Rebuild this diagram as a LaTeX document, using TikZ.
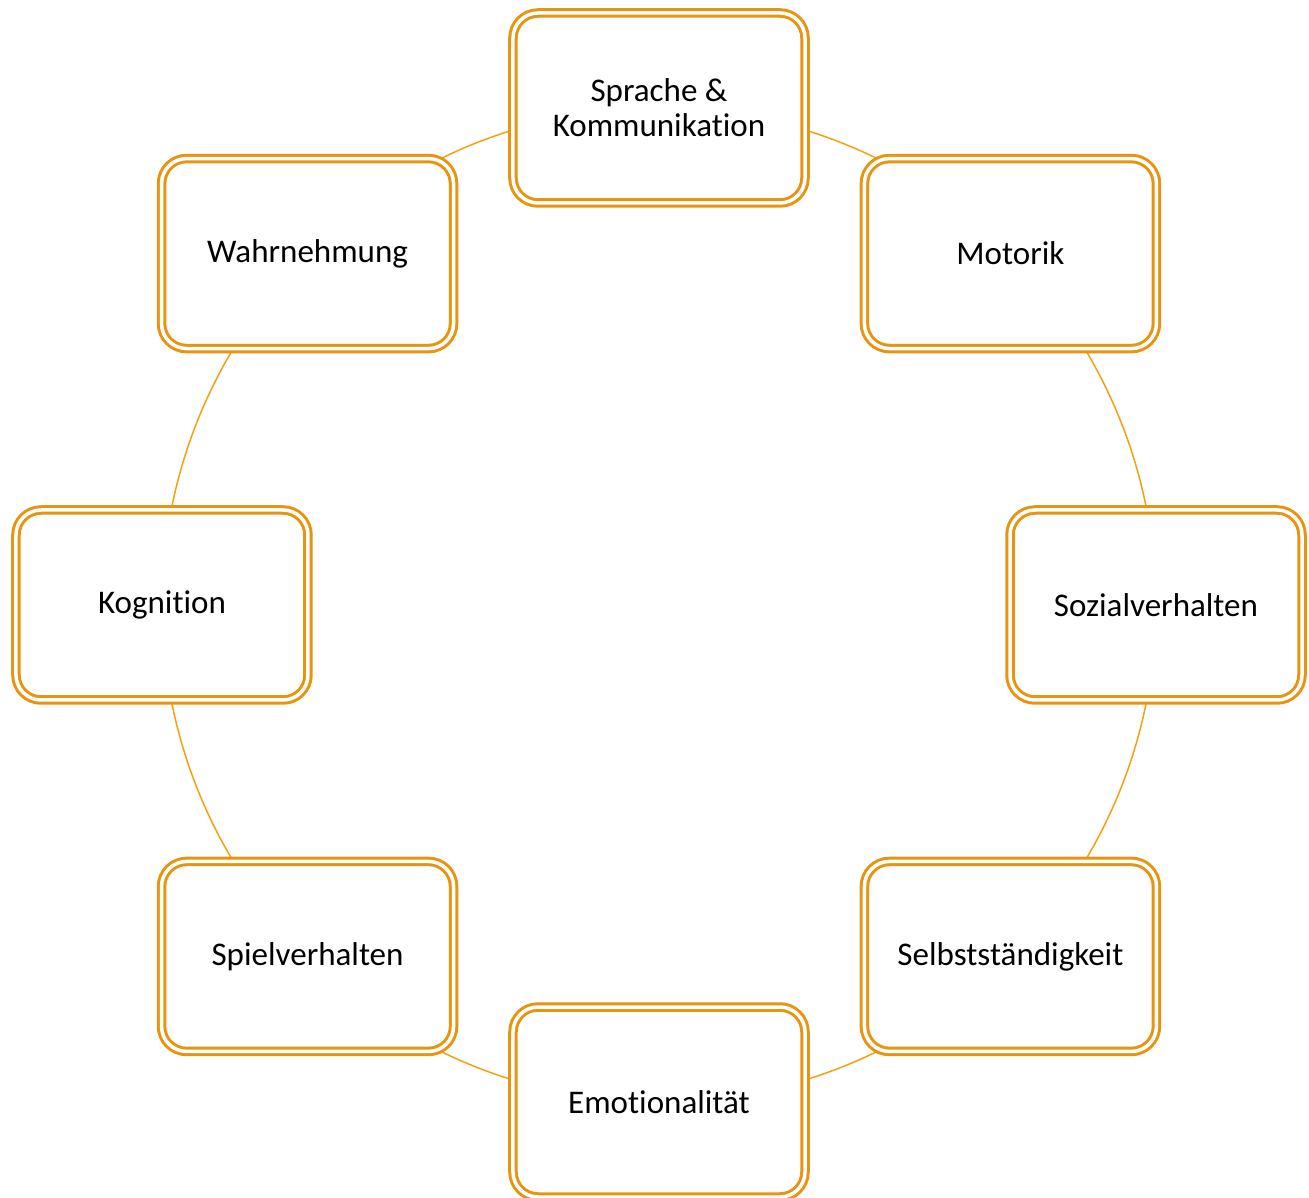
\documentclass[tikz,border=0pt]{standalone}
\usepackage{fontspec}
\setmainfont{Carlito}[Ligatures=NoCommon]
\usepackage{xcolor}
\usetikzlibrary{positioning,backgrounds}

\definecolor{boxorange}{RGB}{232,148,16}
\definecolor{ringorange}{RGB}{242,160,20}

\tikzset{
    area/.style={draw=boxorange, double, line width=0.06cm, double distance=0.07cm,
        fill=white, rounded corners=0.5cm, minimum width=5.84cm, minimum height=3.8cm,
        inner sep=0pt, outer sep=0.095cm, align=center,
        font=\fontsize{18.8}{20}\selectfont},
    ring/.style={draw=ringorange, line width=0.03cm, bend left=22.5, looseness=0.885}
}

\begin{document}
\begin{tikzpicture}
    			% Frame of the picture
    			\useasboundingbox (-13.18,-11.86) rectangle (13.0,12.1);
    			
    			% Parameters
    			\def\rad{9.94} % Radius of the ring
    			
    			% Development areas on the ring
    			\node[area] (sprache) at (90:\rad) {Sprache \&\\Kommunikation};
    			\node[area] (motorik) at (45:\rad) {Motorik};
    			\node[area] (sozial) at (0:\rad) {Sozialverhalten};
    			\node[area] (selbst) at (-45:\rad) {Selbstständigkeit};
    			\node[area] (emotion) at (-90:\rad) {Emotionalität};
    			\node[area] (spiel) at (-135:\rad) {Spielverhalten};
    			\node[area] (kognition) at (180:\rad) {Kognition};
    			\node[area] (wahrnehmung) at (135:\rad) {Wahrnehmung};
    			
    			% Ring connecting the areas (clockwise, hidden under the boxes)
    			\begin{pgfonlayer}{background}
    			\draw[ring] (sprache.center) to (motorik.center);
    			\draw[ring] (motorik.center) to (sozial.center);
    			\draw[ring] (sozial.center) to (selbst.center);
    			\draw[ring] (selbst.center) to (emotion.center);
    			\draw[ring] (emotion.center) to (spiel.center);
    			\draw[ring] (spiel.center) to (kognition.center);
    			\draw[ring] (kognition.center) to (wahrnehmung.center);
    			\draw[ring] (wahrnehmung.center) to (sprache.center);
    			\end{pgfonlayer}
    		\end{tikzpicture}
\end{document}
